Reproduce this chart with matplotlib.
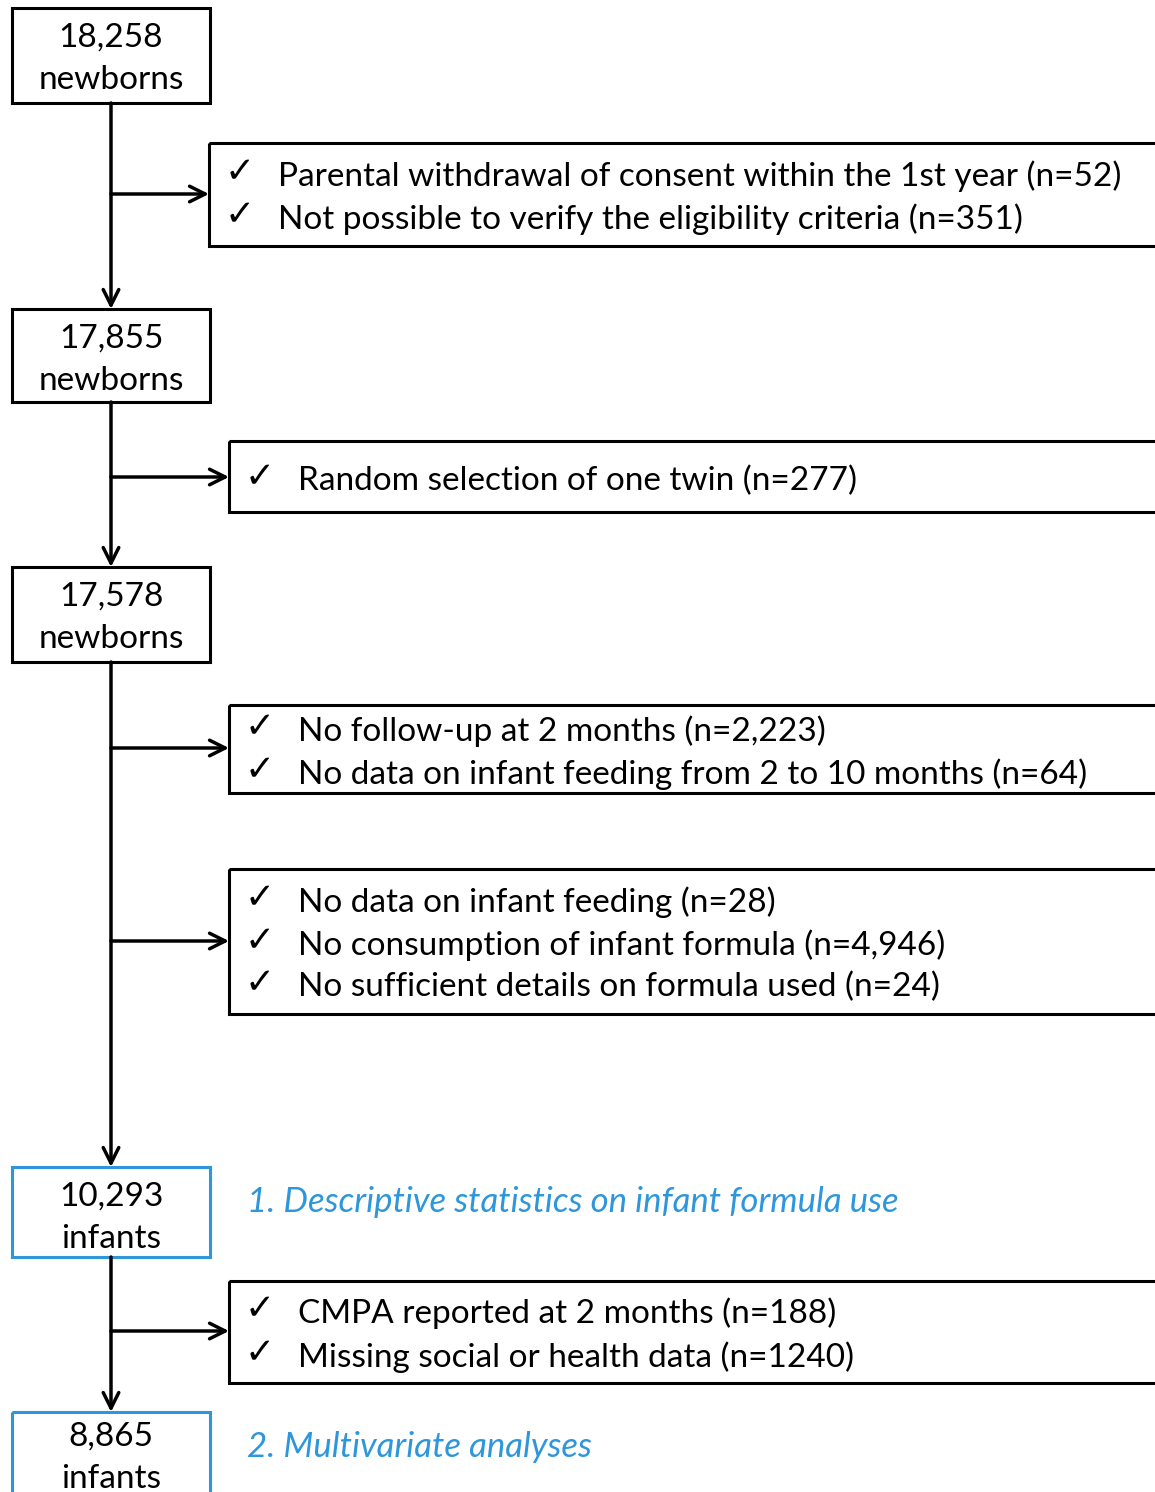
import matplotlib
matplotlib.use('Agg')
import matplotlib.pyplot as plt
from matplotlib.patches import Rectangle

plt.rcParams['font.family'] = ['Lato', 'DejaVu Sans']

# flowchart content
main_counts = ['18,258', '17,855', '17,578', '10,293', '8,865']
main_units = ['newborns', 'newborns', 'newborns', 'infants', 'infants']
exclusions = [
    ['Parental withdrawal of consent within the 1st year (n=52)',
     'Not possible to verify the eligibility criteria (n=351)'],
    ['Random selection of one twin (n=277)'],
    ['No follow-up at 2 months (n=2,223)',
     'No data on infant feeding from 2 to 10 months (n=64)'],
    ['No data on infant feeding (n=28)',
     'No consumption of infant formula (n=4,946)',
     'No sufficient details on formula used (n=24)'],
    ['CMPA reported at 2 months (n=188)',
     'Missing social or health data (n=1240)'],
]
stage_labels = {3: '1. Descriptive statistics on infant formula use',
                4: '2. Multivariate analyses'}

# layout (pixels, y downwards)
W, H = 1155, 1492
main_y = [(8, 103), (309, 402), (567, 662), (1167, 1257), (1412, 1500)]
main_x = (12, 210)
excl_box = [(209, 143, 246), (229, 441, 512), (229, 705, 793), (229, 869, 1014), (229, 1281, 1383)]
excl_arrow_y = [194, 477, 748, 941, 1331]
excl_line_y = [[176, 219], [481], [731, 774], [902, 945, 987], [1313, 1357]]
blue = '#2E96DB'
cx = 111

fig = plt.figure(figsize=(W / 100, H / 100), dpi=100)
ax = fig.add_axes([0, 0, 1, 1])
ax.set_xlim(0, W)
ax.set_ylim(H, 0)
ax.axis('off')

fs = 24
for i, (cnt, unit) in enumerate(zip(main_counts, main_units)):
    y0, y1 = main_y[i]
    col = blue if i >= 3 else 'black'
    ax.add_patch(Rectangle((main_x[0], y0), main_x[1] - main_x[0], y1 - y0,
                           fill=False, ec=col, lw=2.2, clip_on=False))
    off = 0 if i < 4 else -5
    ax.text(cx, y0 + 30 + off, cnt, ha='center', va='center', fontsize=fs)
    ax.text(cx, y0 + 72 + off, unit, ha='center', va='center', fontsize=fs)
    if i in stage_labels:
        ax.text(247, y0 + 35, stage_labels[i], ha='left', va='center', fontsize=25,
                style='italic', color=blue)

# vertical arrows between main boxes
for i in range(len(main_y) - 1):
    ax.annotate('', xy=(cx, main_y[i + 1][0]), xytext=(cx, main_y[i][1]),
                arrowprops=dict(arrowstyle='->', lw=2.5, color='black',
                                mutation_scale=28, shrinkA=0, shrinkB=0))

# exclusion boxes
for j, lines in enumerate(exclusions):
    bx, by0, by1 = excl_box[j]
    ax.add_patch(Rectangle((bx, by0), W + 20 - bx, by1 - by0,
                           fill=False, ec='black', lw=2.2, clip_on=True))
    ay = excl_arrow_y[j]
    ax.annotate('', xy=(bx, ay), xytext=(cx, ay),
                arrowprops=dict(arrowstyle='->', lw=2.5, color='black',
                                mutation_scale=28, shrinkA=0, shrinkB=0))
    for k, line in enumerate(lines):
        ly = excl_line_y[j][k]
        ax.text(bx + 31, ly - 4, '\u2713', ha='center', va='center', fontsize=26,
                family=['DejaVu Sans'], weight='bold')
        ax.text(bx + 69, ly, line, ha='left', va='center', fontsize=fs)

fig.savefig('out.png', dpi=100)
